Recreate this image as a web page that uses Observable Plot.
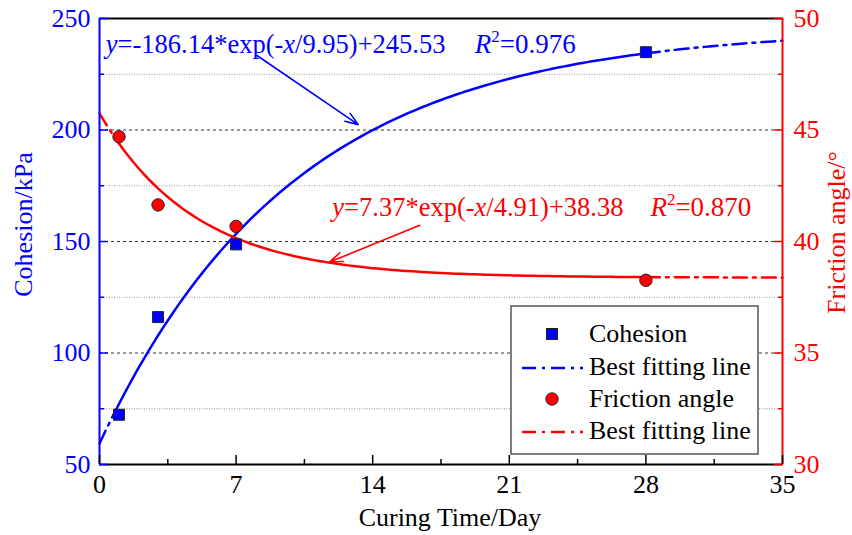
<!DOCTYPE html>
<html><head><meta charset="utf-8">
<script src="https://cdn.jsdelivr.net/npm/d3@7"></script>
<script src="https://cdn.jsdelivr.net/npm/@observablehq/plot@0.6"></script>
<style>
html,body{margin:0;padding:0;background:#fff;}
#chart{width:852px;height:535px;}
#chart svg text, #chart svg tspan{font-family:"Liberation Serif","Times New Roman",serif !important;}
</style></head><body><div id="chart"></div>
<script>
// ---- data ----
const curingDays = [1, 3, 7, 28];
const cohesion = [72.3, 116.1, 148.7, 234.9];          // kPa
const frictionAngle = [44.70, 41.64, 40.68, 38.26];    // degrees
// fitted parameters as printed on the chart: y = a*exp(-x/t) + c
const cohesionFitParams = [-186.14, 9.95, 245.53];
const frictionFitParams = [7.37, 4.91, 38.38];
const xTicks = [0, 7, 14, 21, 28, 35];
const xMinorTicks = [3.5, 10.5, 17.5, 24.5, 31.5];
const cohesionTicks = [50, 100, 150, 200, 250];
const cohesionMinorTicks = [75, 125, 175, 225];
const frictionTicks = [30, 35, 40, 45, 50];
const frictionMinorTicks = [32.5, 37.5, 42.5, 47.5];
const legendLabels = ["Cohesion", "Best fitting line", "Friction angle", "Best fitting line"];
const eqTexts = ["_y_=-186.14*exp(-_x_/9.95)+245.53", "_R_^2^=0.976", "_y_=7.37*exp(-_x_/4.91)+38.38", "_R_^2^=0.870"];

// friction angle (30..50) drawn on the cohesion scale (50..250)
const f2c = f => 50 + (f - 30) * 10;
const c2f = c => (c - 50) / 10 + 30;

const fitSamples = d3.range(0, 35.0001, 0.25);
const cohFit = x => cohesionFitParams[0] * Math.exp(-x / cohesionFitParams[1]) + cohesionFitParams[2];
const friFit = x => f2c(frictionFitParams[0] * Math.exp(-x / frictionFitParams[1]) + frictionFitParams[2]);
const solidX = fitSamples.filter(x => x >= 1 && x <= 28);
const dashX = fitSamples.filter(x => x <= 1 || x >= 28);
const seg = x => (x <= 1 ? "start" : "end");
const plain = s => s.replace(/[_^]/g, "");
const DASHDOT = "14,6,3,6";
const FONT = '"Liberation Serif", "Times New Roman", serif';

const chart = Plot.plot({
  width: 852, height: 535,
  marginLeft: 99, marginRight: 70, marginTop: 18, marginBottom: 71,
  x: {domain: [0, 35]},
  y: {domain: [50, 250]},
  style: {fontFamily: FONT, fontSize: "26px", background: "white", overflow: "visible"},
  marks: [
    Plot.ruleY(cohesionMinorTicks, {stroke: "#999", strokeDasharray: "1,1.5"}),
    Plot.ruleY(cohesionTicks.slice(1, -1), {stroke: "#333", strokeDasharray: "3,3"}),
    Plot.line(solidX, {x: d => d, y: cohFit, stroke: "blue", strokeWidth: 2.5}),
    Plot.line(dashX, {x: d => d, y: cohFit, z: seg, stroke: "blue", strokeWidth: 2.5, strokeDasharray: DASHDOT}),
    Plot.line(solidX, {x: d => d, y: friFit, stroke: "red", strokeWidth: 2.5}),
    Plot.line(dashX, {x: d => d, y: friFit, z: seg, stroke: "red", strokeWidth: 2.5, strokeDasharray: DASHDOT}),
    Plot.dot(curingDays, {x: d => d, y: (d, i) => cohesion[i], symbol: "square", r: 6.2, fill: "blue", stroke: "#222", strokeWidth: 1}),
    Plot.dot(curingDays, {x: d => d, y: (d, i) => f2c(frictionAngle[i]), r: 6.2, fill: "red", stroke: "#222", strokeWidth: 1}),
    Plot.arrow([0], {x1: 8.07, y1: 233.4, x2: 13.26, y2: 202.4, stroke: "blue", strokeWidth: 1.6, headLength: 13, headAngle: 40}),
    Plot.arrow([0], {x1: 16.41, y1: 157.25, x2: 11.79, y2: 140.78, stroke: "red", strokeWidth: 1.6, headLength: 13, headAngle: 40}),
    Plot.text([plain(eqTexts[0])], {x: 0.32, y: 238.2, text: d => d, textAnchor: "start", lineAnchor: "middle", fill: "blue", fontFamily: FONT, fontSize: 26.5}),
    Plot.text([plain(eqTexts[1])], {x: 19.23, y: 238.2, text: d => d, textAnchor: "start", lineAnchor: "middle", fill: "blue", fontFamily: FONT, fontSize: 27}),
    Plot.text([plain(eqTexts[2])], {x: 11.93, y: 165.46, text: d => d, textAnchor: "start", lineAnchor: "middle", fill: "red", fontFamily: FONT, fontSize: 26.5}),
    Plot.text([plain(eqTexts[3])], {x: 28.23, y: 165.46, text: d => d, textAnchor: "start", lineAnchor: "middle", fill: "red", fontFamily: FONT, fontSize: 27}),
    // frame lines
    Plot.ruleY([250], {stroke: "black", strokeWidth: 2}),
    Plot.ruleY([50], {stroke: "black", strokeWidth: 2}),
    Plot.ruleX([0], {stroke: "blue", strokeWidth: 2}),
    Plot.ruleX([35], {stroke: "red", strokeWidth: 2}),
    // x axis
    Plot.axisX(xTicks, {tickSize: 0, tickPadding: 10, color: "black", label: null, fontFamily: FONT}),
    Plot.axisX(xTicks, {tickSize: -9, fill: "none", stroke: "black", strokeWidth: 1.5, label: null}),
    Plot.axisX(xMinorTicks, {tickSize: -5, fill: "none", stroke: "black", strokeWidth: 1.5, label: null}),
    // left axis (cohesion)
    Plot.axisY(cohesionTicks, {anchor: "left", tickSize: 0, tickPadding: 9, color: "blue", label: null, fontFamily: FONT}),
    Plot.axisY(cohesionTicks, {anchor: "left", tickSize: -9, fill: "none", stroke: "blue", strokeWidth: 1.5, label: null}),
    Plot.axisY(cohesionMinorTicks, {anchor: "left", tickSize: -5, fill: "none", stroke: "blue", strokeWidth: 1.5, label: null}),
    // right axis (friction angle)
    Plot.axisY(frictionTicks.map(f2c), {anchor: "right", tickSize: 0, tickPadding: 11, color: "red", tickFormat: c => String(c2f(c)), label: null, fontFamily: FONT}),
    Plot.axisY(frictionTicks.map(f2c), {anchor: "right", tickSize: -9, fill: "none", stroke: "red", strokeWidth: 1.5, label: null}),
    Plot.axisY(frictionMinorTicks.map(f2c), {anchor: "right", tickSize: -5, fill: "none", stroke: "red", strokeWidth: 1.5, label: null}),
    // axis titles
    Plot.text(["Cohesion/kPa"], {frameAnchor: "left", dx: -76, dy: -17, rotate: -90, textAnchor: "middle", lineAnchor: "middle", text: d => d, fill: "blue", fontFamily: FONT}),
    Plot.text(["Friction angle/°"], {frameAnchor: "right", dx: 54, dy: -9, rotate: -90, textAnchor: "middle", lineAnchor: "middle", text: d => d, fill: "red", fontFamily: FONT}),
    Plot.text(["Curing Time/Day"], {frameAnchor: "bottom", dx: 9, dy: 53, textAnchor: "middle", lineAnchor: "middle", text: d => d, fill: "black", fontFamily: FONT})
  ]
});
document.getElementById("chart").appendChild(chart);

// rich text (italic variables, superscripts)
const svg = d3.select(chart);
svg.selectAll("text").each(function () {
  const spec = eqTexts.find(s => plain(s) === this.textContent);
  if (!spec) return;
  this.textContent = "";
  let shifted = false;
  for (const part of spec.split(/(_[^_]+_|\^[^^]+\^)/).filter(Boolean)) {
    const ts = d3.select(this).append("tspan");
    if (part.startsWith("_")) {
      ts.text(part.slice(1, -1)).attr("font-style", "italic");
      if (shifted) { ts.attr("dy", 11); shifted = false; }
    } else if (part.startsWith("^")) {
      ts.text(part.slice(1, -1)).attr("font-size", "17px").attr("dy", -11);
      shifted = true;
    } else {
      ts.text(part);
      if (shifted) { ts.attr("dy", 11); shifted = false; }
    }
  }
});

// legend
const lg = svg.append("g").attr("font-size", "26px").attr("text-anchor", "start");
lg.append("rect").attr("x", 511).attr("y", 306).attr("width", 247).attr("height", 148)
  .attr("fill", "white").attr("stroke", "#555").attr("stroke-width", 1.5);
const rowY = [334, 367, 399, 431];
legendLabels.forEach((lab, i) => {
  const y = rowY[i];
  const color = i < 2 ? "blue" : "red";
  if (i === 0) lg.append("rect").attr("x", 546.5).attr("y", y - 5.5).attr("width", 11).attr("height", 11).attr("fill", "blue").attr("stroke", "#222");
  if (i === 2) lg.append("circle").attr("cx", 552).attr("cy", y).attr("r", 6.2).attr("fill", "red").attr("stroke", "#222");
  if (i === 1 || i === 3) lg.append("line").attr("x1", 522).attr("x2", 583).attr("y1", y + 1).attr("y2", y + 1)
    .attr("stroke", color).attr("stroke-width", 2.5).attr("stroke-dasharray", DASHDOT);
  lg.append("text").attr("x", 589).attr("y", y).attr("dy", "0.32em").attr("text-anchor", "start").attr("fill", "black").text(lab);
});
</script>
</body></html>
